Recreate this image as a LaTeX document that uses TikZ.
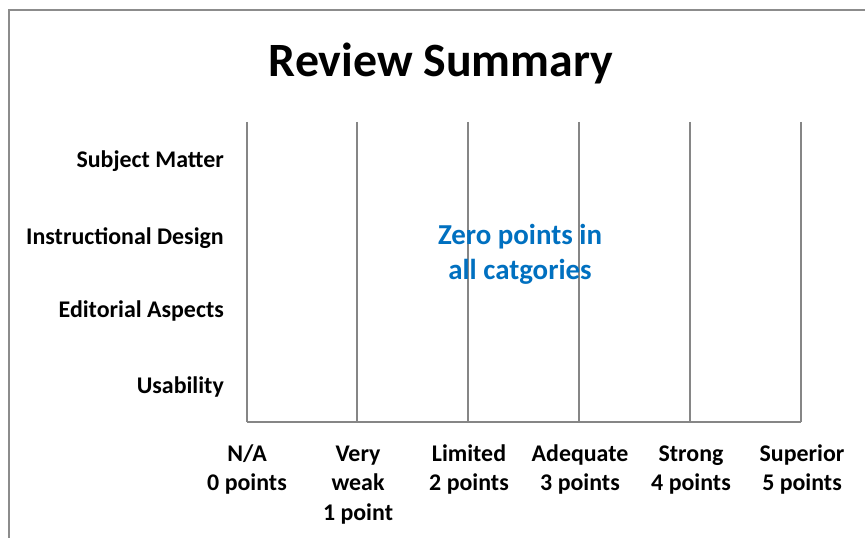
\documentclass[tikz,border=0pt]{standalone}
\usepackage{fontspec}
\setmainfont{Carlito}
\definecolor{gridgray}{HTML}{868686}
\definecolor{framegray}{HTML}{8C8C8C}
\definecolor{zeroblue}{HTML}{0070C0}
\newcommand{\stackt}[1]{\begin{tabular}[t]{@{}c@{}}#1\end{tabular}}
\begin{document}
\begin{tikzpicture}[x=1bp,y=-1bp,
  cat/.style={anchor=base east,font=\bfseries\fontsize{24}{28}\selectfont,inner sep=0pt},
  tick/.style={anchor=base,font=\bfseries\fontsize{24}{30}\selectfont,inner sep=0pt},
  grid/.style={draw=gridgray,line width=1.1bp}]
\useasboundingbox (0,0) rectangle (865,538);
\fill[white] (0,0) rectangle (865,538);
\draw[framegray,line width=2.2bp] (9,545) -- (9,10) -- (870,10);
\node[anchor=base,inner sep=0pt,font=\bfseries\fontsize{48}{56}\selectfont] (title) at (441,77) {Review Summary};
\foreach \x in {247,357,468,579,690,801}{\draw[grid] (\x,122) -- (\x,422);}
\draw[grid] (247,422) -- (801,422);
\node[cat] (sm) at (224,168) {Subject Matter};
\node[cat] (id) at (224,245) {Instructional Design};
\node[cat] (ea) at (224,318) {Editorial Aspects};
\node[cat] (us) at (224,393) {Usability};
\node[tick] (t0) at (247,461) {\stackt{N/A\\0 points}};
\node[tick] (t1) at (358,461) {\stackt{Very\\weak\\1 point}};
\node[tick] (t2) at (469,461) {\stackt{Limited\\2 points}};
\node[tick] (t3) at (580,461) {\stackt{Adequate\\3 points}};
\node[tick] (t4) at (691,461) {\stackt{Strong\\4 points}};
\node[tick] (t5) at (802,461) {\stackt{Superior\\5 points}};
\node[anchor=base,inner sep=0pt,text=zeroblue,font=\bfseries\fontsize{29}{35}\selectfont] (zero) at (520,245) {\stackt{Zero points in\\all catgories}};
\end{tikzpicture}
\end{document}
